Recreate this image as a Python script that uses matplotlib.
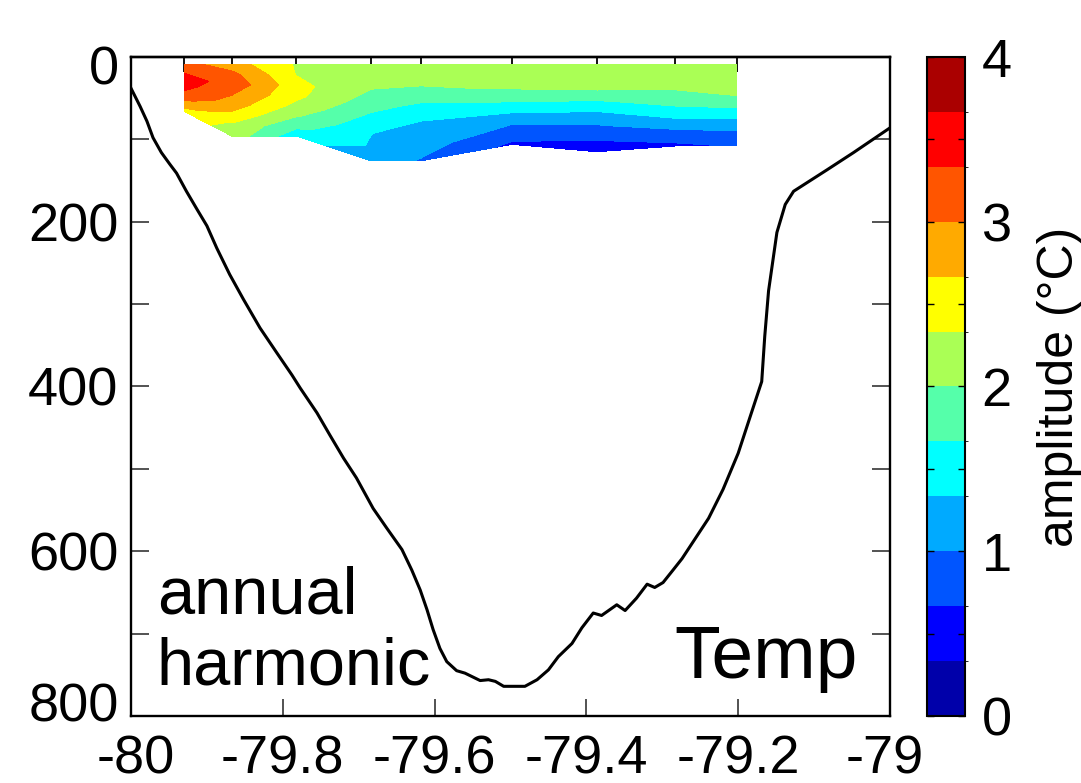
import numpy as np
import matplotlib
matplotlib.use("Agg")
import matplotlib.pyplot as plt
from matplotlib.colors import ListedColormap, BoundaryNorm
from matplotlib.ticker import FuncFormatter
from matplotlib.transforms import ScaledTranslation

plt.rcParams['font.family'] = ['Liberation Sans', 'DejaVu Sans']

# station longitudes and deepest sample of each cast (m)
station_lon = [-79.930, -79.867, -79.782, -79.684, -79.618, -79.498, -79.386, -79.283, -79.202]
station_bottom = [66, 96, 96, 126, 126, 106, 115, 108, 107]
top_depth = 9

# annual harmonic amplitude (degC), 8 evenly spaced samples from top to bottom of each cast
amp_st1 = [3.12, 3.28, 3.45, 3.45, 3.32, 3.10, 2.82, 2.50]
amp_st2 = [2.82, 3.10, 3.22, 3.00, 2.82, 2.55, 2.25, 2.20]
amp_st3 = [2.30, 2.32, 2.45, 2.42, 2.25, 2.03, 1.75, 1.45]
amp_st4 = [2.20, 2.12, 1.97, 1.78, 1.55, 1.34, 1.30, 1.15]
amp_st5 = [2.18, 2.10, 1.92, 1.60, 1.35, 1.20, 1.08, 0.98]
amp_st6 = [2.20, 2.12, 2.04, 1.76, 1.42, 1.05, 0.85, 0.60]
amp_st7 = [2.20, 2.12, 2.02, 1.63, 1.25, 0.95, 0.69, 0.45]
amp_st8 = [2.22, 2.15, 2.04, 1.82, 1.55, 1.20, 0.85, 0.60]
amp_st9 = [2.25, 2.20, 2.12, 1.95, 1.58, 1.22, 0.93, 0.70]

# bottom profile along the section
bathy_lon = [-80.0, -79.988, -79.979, -79.971, -79.960, -79.949, -79.940, -79.927, -79.913,
             -79.900, -79.887, -79.870, -79.852, -79.830, -79.808, -79.788, -79.777, -79.755,
             -79.738, -79.720, -79.703, -79.681, -79.663, -79.643, -79.630, -79.619, -79.610,
             -79.602, -79.593, -79.584, -79.571, -79.560, -79.540, -79.529, -79.520, -79.509,
             -79.481, -79.465, -79.450, -79.437, -79.419, -79.406, -79.391, -79.380, -79.360,
             -79.349, -79.334, -79.320, -79.310, -79.299, -79.286, -79.274, -79.239, -79.220,
             -79.200, -79.184, -79.169, -79.165, -79.160, -79.149, -79.138, -79.127, -79.083,
             -79.048, -79.024, -79.0]
bathy_depth = [38, 60, 78, 98, 116, 130, 141, 163, 185,
               205, 232, 264, 294, 329, 359, 386, 402, 432,
               459, 487, 511, 548, 572, 598, 623, 647, 671,
               695, 718, 734, 745, 748, 757, 756, 758, 764,
               764, 756, 744, 728, 712, 693, 675, 678, 665,
               672, 657, 640, 644, 638, 623, 609, 560, 525,
               481, 436, 394, 339, 284, 213, 179, 163, 137,
               116, 101, 86]

levels = np.linspace(0, 4, 13)
colors = ['#0000aa', '#0000ff', '#0055ff', '#00aaff', '#00ffff', '#55ffaa',
          '#aaff55', '#ffff00', '#ffaa00', '#ff5500', '#ff0000', '#aa0000']

cmap = ListedColormap(colors)
norm = BoundaryNorm(levels, cmap.N)

amp = np.array([amp_st1, amp_st2, amp_st3, amp_st4, amp_st5,
                amp_st6, amp_st7, amp_st8, amp_st9]).T
nlev = amp.shape[0]
frac = np.linspace(0, 1, nlev)[:, None]
X = np.tile(station_lon, (nlev, 1))
Y = top_depth + (np.array(station_bottom)[None, :] - top_depth) * frac

fig = plt.figure(figsize=(10.81, 7.83), dpi=100)
ax = fig.add_axes([0.1212, 0.0856, 0.7021, 0.8416])
cax = fig.add_axes([0.8575, 0.0856, 0.0352, 0.8416])

cf = ax.contourf(X, Y, amp, levels=levels, cmap=cmap, norm=norm)
ax.plot(bathy_lon, bathy_depth, color='black', lw=2.2)

ax.set_xlim(-80, -79)
ax.set_ylim(800, 0)
ax.set_xticks(np.arange(-80, -78.99, 0.2))
ax.xaxis.set_major_formatter(FuncFormatter(lambda v, p: '%g' % round(v, 1)))
ax.set_yticks(np.arange(0, 801, 100))
ax.yaxis.set_major_formatter(FuncFormatter(lambda v, p: '%d' % v if v % 200 == 0 else ''))
ax.tick_params(axis='y', direction='in', length=13, width=1.3, color='#444444',
               right=True, labelsize=39, pad=9)
ax.tick_params(axis='x', direction='in', length=12, width=1.3, color='#444444',
               top=False, labelsize=39, pad=13)
for s in ax.spines.values():
    s.set_linewidth(1.7)

# nudge the end labels inwards so they do not collide at the corner
def nudge(label, dx, dy):
    label.set_transform(label.get_transform() +
                        ScaledTranslation(dx / 100, dy / 100, fig.dpi_scale_trans))

ylabs = ax.get_yticklabels()
nudge(ylabs[0], 0, -8)
nudge(ylabs[-1], 0, 14)
xlabs = ax.get_xticklabels()
nudge(xlabs[0], 5, 0)
nudge(xlabs[-1], -5, 0)

top = ax.secondary_xaxis('top')
top.set_xticks(station_lon)
top.tick_params(direction='in', length=11, width=1.3, color='black', labeltop=False)
top.spines['top'].set_linewidth(1.7)

ax.text(0.034, 0.026, 'annual\nharmonic', transform=ax.transAxes, fontsize=48,
        ha='left', va='bottom')
ax.text(0.958, 0.058, 'Temp', transform=ax.transAxes, fontsize=54,
        ha='right', va='baseline')

cb = fig.colorbar(cf, cax=cax, ticks=np.arange(0, 4.01, 0.5))
cb.ax.yaxis.set_major_formatter(FuncFormatter(lambda v, p: '%d' % v if v % 1 == 0 else ''))
cb.ax.tick_params(direction='in', length=5, width=1, left=True, right=True,
                  labelsize=39, pad=12)
cb.outline.set_linewidth(1.5)
cb.set_label('amplitude (\u00b0C)', fontsize=36, labelpad=18)

fig.savefig('out.png', dpi=100)
